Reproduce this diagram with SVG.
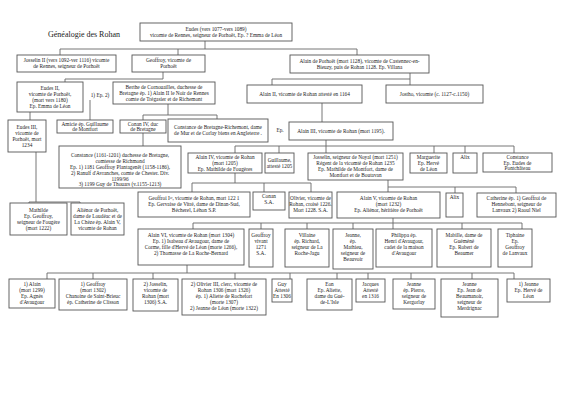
<svg xmlns="http://www.w3.org/2000/svg" width="566" height="400" viewBox="0 0 566 400">
<style>
rect{fill:#fff;stroke:#555;stroke-width:0.9}
text{font-family:"Liberation Serif","Times New Roman",serif;font-size:5.3px;fill:#222;text-anchor:middle}
.t{font-size:8px;text-anchor:start}
.c path{fill:none;stroke:#666;stroke-width:0.9}
</style>
<rect x="0" y="0" width="566" height="400" style="stroke:none"/>
<text class="t" x="48" y="37">Généalogie des Rohan</text>
<g class="c">
<path d="M205,41V49M60,49H357M60,49V55M178,49V55M357,49V55"/>
<path d="M163,72V79H65V82"/>
<path d="M410,73V85M272,79H410M272,79V85"/>
<path d="M30,112V120"/>
<path d="M90,100V120"/>
<path d="M168,104V115M143,115H217M143,115V120M217,115V119"/>
<path d="M143,133V146"/>
<path d="M322,103V122"/>
<path d="M326,140V146M235,146H514M235,146V153M279,146V153M326,146V153M434,146V153M465,146V153M514,146V153"/>
<path d="M36,152V202M29,202H80M29,202V203M80,202V203"/>
<path d="M235,173V183M192,183H311M192,183V192M264,183V192M311,183V192"/>
<path d="M388,180V187M388,187H516M388,187V192M455,187V193M516,187V193"/>
<path d="M393,218V223M193,223H522M193,223V229M261,223V229M307,223V229M353,223V229M393,223V229M462,223V229M522,223V229"/>
<path d="M187,265V273M47,273H514M47,273V279M93,273V279M153,273V279M235,273V279M290,273V279M337,273V279M368,273V279M411,273V279M472,273V279M514,273V279"/>
</g>
<g id="eudes"><rect x="140" y="23" width="152" height="18"/><text x="216" y="30.5">Eudes (vers 1077-vers 1089)</text><text x="216" y="36.5">vicomte de Rennes, seigneur de Porhoët,  Ep. ? Emma de Léon</text></g>
<g id="josselin2"><rect x="17" y="55" width="99" height="17"/><text x="66.5" y="62">Josselin II (vers 1092-ver 1116) vicomte</text><text x="66.5" y="68">de Rennes, seigneur de Porhoët</text></g>
<g id="geoffroy"><rect x="132" y="55" width="73" height="17"/><text x="168.5" y="62">Geoffroy, vicomte de</text><text x="168.5" y="68">Porhoët</text></g>
<g id="alain-porhoet"><rect x="290" y="55" width="139" height="18"/><text x="359.5" y="62.5">Alain de Porhoët (mort 1128), vicomte de Castennec-en-</text><text x="359.5" y="68.5">Bieuzy, puis de Rohan 1128. Ep. Villana</text></g>
<g id="eudes2"><rect x="17" y="82" width="66" height="30"/><text x="50" y="89.5">Eudes II,</text><text x="50" y="95.5">vicomte de Porhoët,</text><text x="50" y="101.5">(mort vers 1180)</text><text x="50" y="107.5">Ep. Emma de Léon</text></g>
<g id="ep1"><text x="100" y="97">1) Ep. 2)</text></g>
<g id="berthe"><rect x="113" y="82" width="102" height="22"/><text x="164" y="88.5">Berthe de Cornouailles, duchesse de</text><text x="164" y="94.5">Bretagne  ép. 1) Alain II le Noir de Rennes</text><text x="164" y="100.5">comte de Trégasier et de Richemont</text></g>
<g id="alain2"><rect x="247" y="85" width="115" height="18"/><text x="304.5" y="95.5">Alain II, vicomte de Rohan attesté en  1164</text></g>
<g id="jostho"><rect x="386" y="85" width="97" height="18"/><text x="434.5" y="95.5">Jostho, vicomte (c. 1127-c.1150)</text></g>
<g id="eudes3"><rect x="8" y="120" width="38" height="32"/><text x="27" y="128.5">Eudes III,</text><text x="27" y="134.5">vicomte de</text><text x="27" y="140.5">Porhoët, mort</text><text x="27" y="146.5">1234</text></g>
<g id="amicie"><rect x="57" y="120" width="56" height="13"/><text x="85" y="125.5">Amicie ép. Guillaume</text><text x="85" y="131">de Montfort</text></g>
<g id="conan4"><rect x="120" y="120" width="46" height="13"/><text x="143" y="125.5">Conan IV, duc</text><text x="143" y="131">de Bretagne</text></g>
<g id="constance-br"><rect x="168" y="119" width="100" height="23"/><text x="218" y="129">Constance de Bretagne-Richemont, dame</text><text x="218" y="135">de Mur et de Corlay biens en Angleterre  .</text></g>
<g id="ep2"><text x="280" y="132">Ep.</text></g>
<g id="alain3"><rect x="289" y="122" width="104" height="18"/><text x="341" y="132.5">Alain III, vicomte de Rohan (mort 1195).</text></g>
<g id="constance1161"><rect x="59" y="146" width="122" height="42"/><text x="120" y="156.5">Constance (1161-1201) duchesse de Bretagne,</text><text x="120" y="162.5">comtesse de Richmond</text><text x="120" y="168.5">Ep. 1) 1181 Geoffroy Plantagenêt (1158-1186),</text><text x="120" y="174.5">2) Ranulf d'Avranches, comte de Chester. Div.</text><text x="120" y="180.5">1199/96</text><text x="120" y="186">3) 1199 Guy de Thouars (v.1155-1213)</text></g>
<g id="alain4"><rect x="188" y="153" width="74" height="20"/><text x="225" y="158.5">Alain IV, vicomte de Rohan</text><text x="225" y="164.5">(mort 1205)</text><text x="225" y="170.5">Ep. Mathilde de Fougères</text></g>
<g id="guillaume"><rect x="265" y="153" width="29" height="20"/><text x="279.5" y="161.5">Guillaume,</text><text x="279.5" y="167.5">attesté 1205</text></g>
<g id="josselin-noyal"><rect x="308" y="153" width="95" height="27"/><text x="355.5" y="159">Josselin, seigneur de Noyal (mort 1251)</text><text x="355.5" y="165">Régent de la vicomté de Rohan 1235</text><text x="355.5" y="171">Ep. Mathilde de Montfort, dame de</text><text x="355.5" y="177">Montfort et de Boutavan</text></g>
<g id="marguerite"><rect x="410" y="153" width="37" height="20"/><text x="428.5" y="158.5">Marguerite</text><text x="428.5" y="164.5">Ep. Hervé</text><text x="428.5" y="170.5">de Léon</text></g>
<g id="alix1"><rect x="453" y="153" width="24" height="20"/><text x="465" y="158.5">Alix</text></g>
<g id="constance2"><rect x="483" y="153" width="69" height="19"/><text x="517.5" y="158.5">Constance</text><text x="517.5" y="164.5">Ep. Eudes de</text><text x="517.5" y="170">Pontchâteau</text></g>
<g id="geoffroi1"><rect x="138" y="192" width="112" height="25"/><text x="194" y="200">Geoffroi I<tspan font-size="3.5" dy="-1.5">er</tspan><tspan dy="1.5">, vicomte de Rohan, mort 122 1</tspan></text><text x="194" y="206">Ep. Gervaise de Vitré, dame de Dinan-Sud,</text><text x="194" y="212">Bécherel, Léhon S.P.</text></g>
<g id="conan-sa"><rect x="253" y="192" width="32" height="18"/><text x="269" y="198">Conan</text><text x="269" y="204">S.A.</text></g>
<g id="olivier"><rect x="289" y="192" width="43" height="26"/><text x="310.5" y="200">Olivier, vicomte de</text><text x="310.5" y="206">Rohan, croisé 1226.</text><text x="310.5" y="212">Mort 1228. S.A.</text></g>
<g id="alain5"><rect x="337" y="192" width="103" height="26"/><text x="388.5" y="200">Alain V, vicomte de Rohan</text><text x="388.5" y="206">(mort 1232)</text><text x="388.5" y="212">Ep. Aliénor, héritière  de Porhoët</text></g>
<g id="alix2"><rect x="446" y="193" width="17" height="24"/><text x="454.5" y="199">Alix</text></g>
<g id="catherine"><rect x="477" y="193" width="79" height="24"/><text x="516.5" y="200">Catherine ép. 1) Geoffroi de</text><text x="516.5" y="206">Hennebont, seigneur de</text><text x="516.5" y="212">Lanvaux 2) Raoul Niel</text></g>
<g id="mathilde"><rect x="10" y="203" width="57" height="32"/><text x="38.5" y="211.5">Mathilde</text><text x="38.5" y="217.5">Ep. Geoffroy,</text><text x="38.5" y="223.5">seigneur de Fougère</text><text x="38.5" y="229.5">(mort 1222)</text></g>
<g id="alienor"><rect x="71" y="203" width="53" height="32"/><text x="97.5" y="211.5">Aliénor de Porhoët,</text><text x="97.5" y="217.5">dame de Loudéac et de</text><text x="97.5" y="223.5">La Chèze ép. Alain V,</text><text x="97.5" y="229.5">vicomte de Rohan</text></g>
<g id="alain6"><rect x="138" y="229" width="106" height="36"/><text x="191" y="237">Alain VI, vicomte de Rohan (mort 1304)</text><text x="191" y="243">Ep. 1) Isabeau d'Avaugour, dame de</text><text x="191" y="249">Corme, fille d'Hervé de Léon (morte 1266),</text><text x="191" y="255">2) Thomasse de La Roche-Bernard</text></g>
<g id="geoffroy-vivant"><rect x="249" y="229" width="24" height="38"/><text x="261" y="237">Geoffroy</text><text x="261" y="243">vivant</text><text x="261" y="249">1271</text><text x="261" y="255">S.A.</text></g>
<g id="villaine"><rect x="285" y="229" width="44" height="38"/><text x="307" y="237">Villaine</text><text x="307" y="243">ép. Richard,</text><text x="307" y="249">seigneur de La</text><text x="307" y="255">Roche-Jagu</text></g>
<g id="jeanne1"><rect x="333" y="229" width="40" height="40"/><text x="353" y="237">Jeanne,</text><text x="353" y="243">ép.</text><text x="353" y="249">Mathieu,</text><text x="353" y="255">seigneur de</text><text x="353" y="261">Beauvoir</text></g>
<g id="philippa"><rect x="376" y="229" width="56" height="38"/><text x="404" y="237">Philippa ép.</text><text x="404" y="243">Henri d'Avaugour,</text><text x="404" y="249">cadet de la maison</text><text x="404" y="255">d'Avaugour</text></g>
<g id="mabille"><rect x="437" y="229" width="54" height="38"/><text x="464" y="237">Mabille, dame de</text><text x="464" y="243">Guéméné</text><text x="464" y="249">Ep. Robert de</text><text x="464" y="255">Beaumer</text></g>
<g id="tiphaine"><rect x="498" y="229" width="34" height="38"/><text x="515" y="237">Tiphaine</text><text x="515" y="243">Ep.</text><text x="515" y="249">Geoffroy</text><text x="515" y="255">de Lanvaux</text></g>
<g id="alain-1299"><rect x="9" y="279" width="46" height="29"/><text x="32" y="286">1) Alain</text><text x="32" y="292">(mort 1299)</text><text x="32" y="298">Ep. Agnès</text><text x="32" y="304">d'Avaugour</text></g>
<g id="geoffroy-1302"><rect x="59" y="279" width="68" height="31"/><text x="93" y="286">1)      Geoffroy</text><text x="93" y="292">(mort 1302)</text><text x="93" y="298">Chanoine de Saint-Brieuc</text><text x="93" y="304">ép. Catherine de Clisson</text></g>
<g id="josselin-1306"><rect x="133" y="279" width="45" height="32"/><text x="155.5" y="286">2) Josselin,</text><text x="155.5" y="292">vicomte de</text><text x="155.5" y="298">Rohan (mort</text><text x="155.5" y="304">1306) S.A.</text></g>
<g id="olivier3"><rect x="182" y="279" width="84" height="36"/><text x="224" y="286">2) Olivier III, clerc,  vicomte de</text><text x="224" y="292">Rohan 1306 (mort 1326)</text><text x="224" y="298">ép. 1) Aliette de Rochefort</text><text x="224" y="304">(morte 1307)</text><text x="224" y="310">2) Jeanne de Léon (morte 1322)</text></g>
<g id="guy"><rect x="272" y="279" width="20" height="23"/><text x="282" y="286">Guy</text><text x="282" y="292">Attesté</text><text x="282" y="298">En 1306</text></g>
<g id="eon"><rect x="307" y="279" width="45" height="31"/><text x="329.5" y="286">Eon</text><text x="329.5" y="292">Ep. Aliette,</text><text x="329.5" y="298">dame du Gué-</text><text x="329.5" y="304">de-L'Isle</text></g>
<g id="jacques"><rect x="356" y="279" width="29" height="23"/><text x="370.5" y="286">Jacques</text><text x="370.5" y="292">Attesté</text><text x="370.5" y="298">en 1316</text></g>
<g id="jeanne-kergorlay"><rect x="393" y="279" width="42" height="30"/><text x="414" y="286">Jeanne</text><text x="414" y="292">ép. Pierre,</text><text x="414" y="298">seigneur de</text><text x="414" y="304">Kergorlay</text></g>
<g id="jeanne-beaumanoir"><rect x="441" y="279" width="57" height="38"/><text x="469.5" y="286">Jeanne</text><text x="469.5" y="292">Ep. Jean de</text><text x="469.5" y="298">Beaumanoir,</text><text x="469.5" y="304">seigneur de</text><text x="469.5" y="310">Merdrignac</text></g>
<g id="jeanne-leon"><rect x="507" y="279" width="43" height="23"/><text x="528.5" y="286">1) Jeanne</text><text x="528.5" y="292">Ep. Hervé de</text><text x="528.5" y="298">Léon</text></g>
</svg>
